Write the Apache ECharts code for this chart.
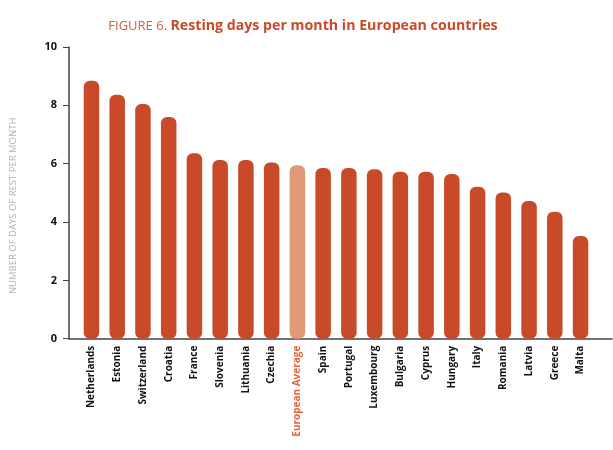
<!DOCTYPE html>
<html>
<head>
<meta charset="utf-8">
<script src="https://cdn.jsdelivr.net/npm/echarts@6/dist/echarts.min.js"></script>
<style>
    html, body { margin: 0; padding: 0; background: #fff; }
    #chart { width: 613px; height: 450px; }
</style>
</head>
<body>
<div id="chart"></div>
<script>
    // data
    var countries = ['Netherlands', 'Estonia', 'Switzerland', 'Croatia', 'France', 'Slovenia', 'Lithuania',
        'Czechia', 'European Average', 'Spain', 'Portugal', 'Luxembourg', 'Bulgaria', 'Cyprus', 'Hungary',
        'Italy', 'Romania', 'Latvia', 'Greece', 'Malta'];
    var restDays = [8.84, 8.36, 8.05, 7.6, 6.36, 6.13, 6.13, 6.04, 5.95, 5.85, 5.85, 5.81, 5.72, 5.72, 5.65,
        5.21, 5.01, 4.72, 4.35, 3.52];
    var yTicks = [0, 2, 4, 6, 8, 10];
    var highlight = 'European Average';

    var barColor = '#c84a28';
    var avgColor = '#df9a78';

    var myChart = echarts.init(document.getElementById('chart'));
    var option = {
        animation: false,
        textStyle: { fontFamily: 'Open Sans' },
        title: {
            text: '{a|FIGURE 6. }{b|Resting days per month in European countries}',
            left: 298,
            textAlign: 'center',
            top: 14,
            textStyle: {
                fontWeight: 'normal',
                rich: {
                    a: { fontSize: 13, fontWeight: 'normal', color: '#d4603a', fontFamily: 'Open Sans' },
                    b: { fontSize: 14.2, fontWeight: 'bold', color: barColor, fontFamily: 'Open Sans' }
                }
            }
        },
        grid: [
            { left: 78.6, right: 19.6, top: 47, bottom: 111.3 },
            { left: 65, right: 1, top: 47, bottom: 111.3 }
        ],
        xAxis: [
            {
                type: 'category',
                gridIndex: 0,
                data: countries,
                axisLine: { show: false },
                axisTick: { show: false },
                axisLabel: {
                    rotate: 90,
                    interval: 0,
                    margin: 7,
                    fontSize: 10,
                    fontWeight: 'bold',
                    color: function (v) { return v === highlight ? '#e0643e' : '#111'; }
                }
            },
            {
                type: 'value',
                gridIndex: 1,
                min: 0, max: 1,
                axisLine: { show: true, lineStyle: { color: '#444', width: 1.5 } },
                axisTick: { show: false },
                axisLabel: { show: false },
                splitLine: { show: false }
            }
        ],
        yAxis: [
            {
                type: 'value',
                gridIndex: 0,
                min: 0, max: 10,
                show: false
            },
            {
                type: 'value',
                gridIndex: 1,
                min: yTicks[0], max: yTicks[yTicks.length - 1], interval: 2,
                name: 'NUMBER OF DAYS OF REST PER MONTH',
                nameLocation: 'middle',
                nameGap: 51,
                nameRotate: 90,
                nameTextStyle: { color: '#b0b0b0', fontSize: 9.5, padding: [0, 26, 0, 0] },
                axisLine: { show: true, lineStyle: { color: '#444', width: 1.5 } },
                axisTick: { show: true, length: 6, lineStyle: { color: '#444' } },
                axisLabel: { color: '#111', fontWeight: 'bold', fontSize: 11, margin: 12 },
                splitLine: { show: false }
            }
        ],
        series: [
            {
                name: 'Resting days',
                type: 'bar',
                xAxisIndex: 0,
                yAxisIndex: 0,
                barWidth: 15.5,
                data: restDays.map(function (v, i) {
                    return {
                        value: v,
                        itemStyle: { color: countries[i] === highlight ? avgColor : barColor }
                    };
                }),
                itemStyle: { borderRadius: 6 }
            }
        ]
    };
    myChart.setOption(option);
</script>
</body>
</html>
